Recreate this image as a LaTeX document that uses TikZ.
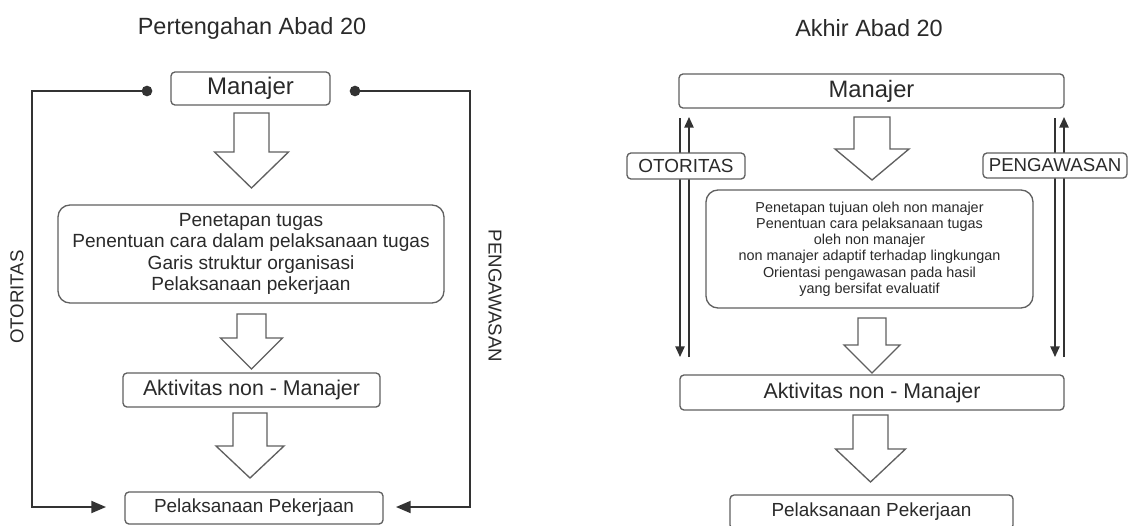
\documentclass[tikz,border=0pt]{standalone}
\usepackage{fontspec}
\setmainfont{Liberation Sans}
\usetikzlibrary{arrows.meta}
\definecolor{txt}{HTML}{2A2A2A}
\definecolor{ln}{HTML}{333333}
\definecolor{bx}{HTML}{606060}
\newcommand{\fsz}[2]{\fontsize{#1}{#2}\selectfont}
\newcommand{\blkarrow}[6]{%
  \draw[blk] ({#1-#3},#2) -- ({#1+#3},#2) -- ({#1+#3},#4) -- ({#1+#5},#4) -- (#1,#6)
    -- ({#1-#5},#4) -- ({#1-#3},#4) -- cycle;}
\begin{document}
\begin{tikzpicture}[x=0.75pt,y=-0.75pt,
  every node/.style={text=txt, inner sep=0pt, outer sep=0pt},
  box/.style={draw=bx, line width=1pt, fill=white, rounded corners=3pt, align=center},
  bigbox/.style={box, rounded corners=9pt},
  blk/.style={draw=bx, line width=1pt, fill=white, line join=miter},
  conn/.style={draw=ln, line width=1.4pt},
  tipa/.style={-{Triangle[length=11pt,width=9pt]}},
  tipb/.style={-{Triangle[length=8pt,width=7pt]}},
  dot/.style={circle, fill=ln, minimum size=8pt}
]
\useasboundingbox (0,0) rectangle (1130,525);
\fill[white] (0,0) rectangle (1130,525);

% ---------- Left panel ----------
\node[font=\fsz{17.6pt}{20pt}] (titleL) at (252,28) {Pertengahan Abad 20};
\node[box, font=\fsz{18pt}{20pt}, minimum width=119.25pt, minimum height=24.75pt] (mgrL) at (250.5,88.5) {Manajer};
\node[bigbox, font=\fsz{14.3pt}{16pt}, minimum width=289.5pt, minimum height=73.5pt] (taskL) at (251,254)
  {Penetapan tugas\\Penentuan cara dalam pelaksanaan tugas\\Garis struktur organisasi\\Pelaksanaan pekerjaan};
\node[box, font=\fsz{16pt}{18pt}, minimum width=192.75pt, minimum height=25.5pt] (aktL) at (251.5,390) {Aktivitas non - Manajer};
\node[box, font=\fsz{14.2pt}{16pt}, minimum width=193.5pt, minimum height=24pt] (pelL) at (254,508) {Pelaksanaan Pekerjaan};

\blkarrow{251.5}{113}{17.5}{152}{37}{188}
\blkarrow{251.5}{314}{14.5}{338}{31}{369}
\blkarrow{250}{413}{17}{446}{34}{478}

\node[dot] (dotL) at (147,91) {};
\node[dot] (dotR) at (355,91) {};
\coordinate (cL1) at (32,91);
\coordinate (cL2) at (32,507);
\coordinate (tipL) at (106,507);
\coordinate (cR1) at (470,91);
\coordinate (cR2) at (470,507);
\coordinate (tipR) at (396,507);
\draw[conn, tipa] (dotL.center) -- (cL1) -- (cL2) -- (tipL);
\draw[conn, tipa] (dotR.center) -- (cR1) -- (cR2) -- (tipR);

\node[rotate=90, font=\fsz{14pt}{16pt}] (otoL) at (17,297) {OTORITAS};
\node[rotate=-90, font=\fsz{14pt}{16pt}] (pengL) at (495,296) {PENGAWASAN};

% ---------- Right panel ----------
\node[font=\fsz{17.6pt}{20pt}] (titleR) at (869,28) {Akhir Abad 20};
\node[box, font=\fsz{17.8pt}{20pt}, minimum width=288.75pt, minimum height=25.5pt] (mgrR) at (871.5,91) {Manajer};
\node[bigbox, font=\fsz{10.8pt}{12.2pt}, minimum width=245.25pt, minimum height=88.5pt] (taskR) at (869.5,249)
  {Penetapan tujuan oleh non manajer\\Penentuan cara pelaksanaan tugas\\oleh non manajer\\non manajer adaptif terhadap lingkungan\\Orientasi pengawasan pada hasil\\yang bersifat evaluatif};
\node[box, font=\fsz{16pt}{18pt}, minimum width=288pt, minimum height=26.25pt] (aktR) at (872,392.5) {Aktivitas non - Manajer};
\node[box, font=\fsz{14.2pt}{16pt}, minimum width=212.25pt, minimum height=25.5pt] (pelR) at (871.5,512) {Pelaksanaan Pekerjaan};

\blkarrow{872}{117}{18}{149}{37}{180}
\blkarrow{872}{318}{14}{345}{28}{373}
\blkarrow{870.5}{415}{17.5}{449}{35}{482}

\coordinate (aLtop) at (680,118);
\coordinate (aLbot) at (680,357);
\coordinate (bLtop) at (689,117);
\coordinate (bLbot) at (689,357);
\coordinate (aRtop) at (1055,118);
\coordinate (aRbot) at (1055,357);
\coordinate (bRtop) at (1064,117);
\coordinate (bRbot) at (1064,357);
\draw[conn, line width=1.2pt, tipb] (aLtop) -- (aLbot);
\draw[conn, line width=1.2pt, tipb] (bLbot) -- (bLtop);
\draw[conn, line width=1.2pt, tipb] (aRtop) -- (aRbot);
\draw[conn, line width=1.2pt, tipb] (bRbot) -- (bRtop);

\node[box, font=\fsz{14.2pt}{16pt}, minimum width=88.5pt, minimum height=19.5pt] (otoR) at (686,166) {OTORITAS};
\node[box, font=\fsz{14pt}{16pt}, minimum width=108pt, minimum height=18.75pt] (pengR) at (1055,165.5) {PENGAWASAN};
\end{tikzpicture}
\end{document}
